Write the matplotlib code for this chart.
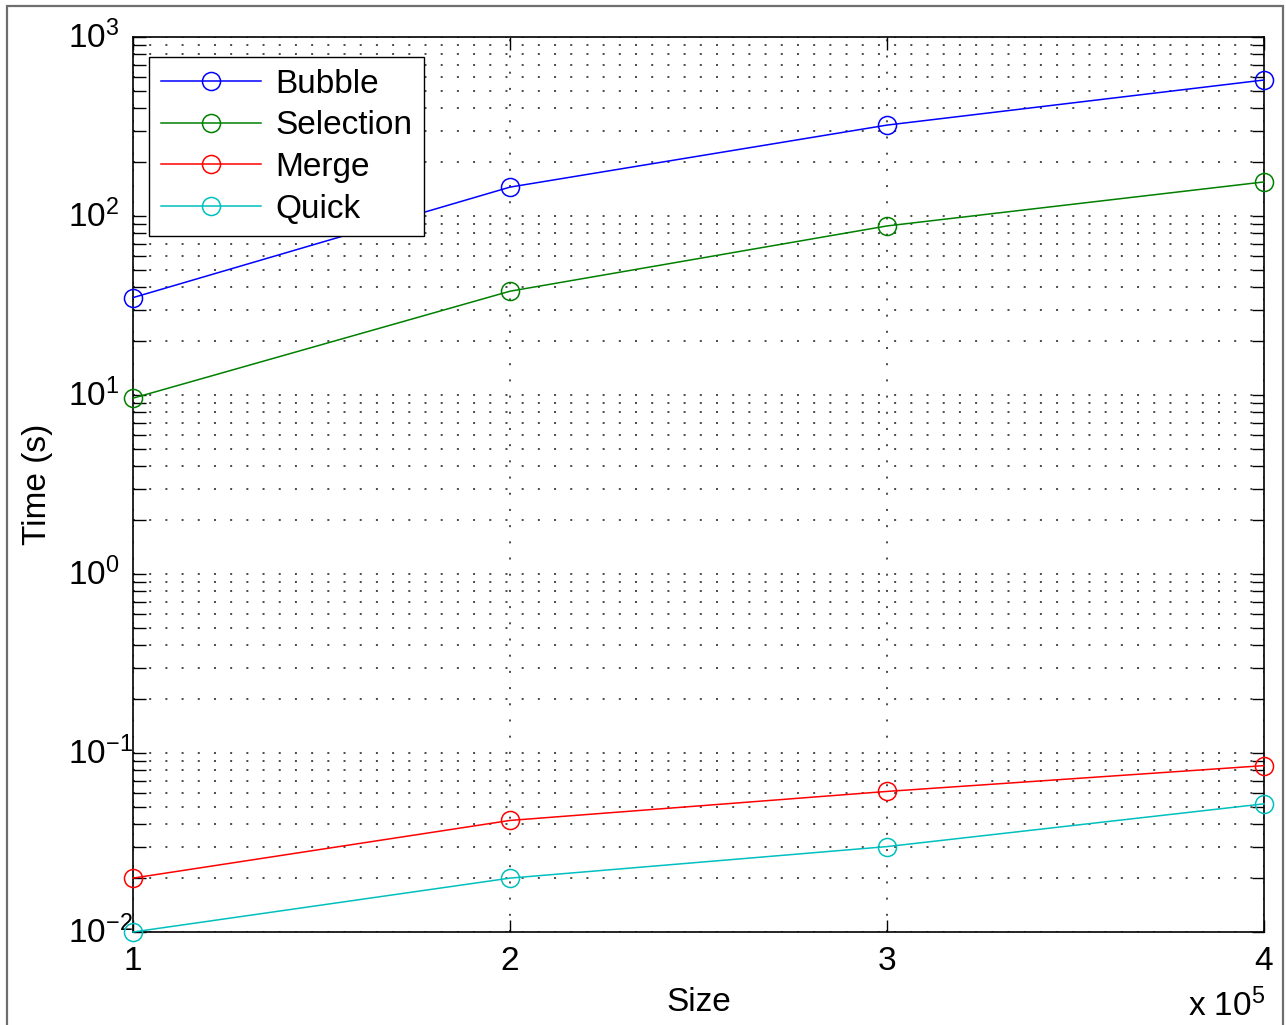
import math
import matplotlib
matplotlib.use("Agg")
import matplotlib.pyplot as plt
from matplotlib.ticker import FixedLocator, FuncFormatter, LogLocator, NullFormatter
from matplotlib.patches import Rectangle
from matplotlib.transforms import ScaledTranslation

plt.rcParams['font.family'] = ['Liberation Sans', 'DejaVu Sans']
plt.rcParams['mathtext.fontset'] = 'custom'
plt.rcParams['mathtext.rm'] = 'Liberation Sans'
plt.rcParams['mathtext.it'] = 'Liberation Sans'
plt.rcParams['mathtext.default'] = 'regular'

sizes = [1e5, 2e5, 3e5, 4e5]
bubble = [35, 145, 322, 575]
selection = [9.6, 38, 88, 155]
merge = [0.020, 0.042, 0.061, 0.085]
quick = [0.010, 0.020, 0.030, 0.052]
labels = ["Bubble", "Selection", "Merge", "Quick"]
colors = ["#0000ff", "#008000", "#ff0000", "#00bfbf"]

FS = 24

fig = plt.figure(figsize=(12.86, 10.25), dpi=100)
fig.patches.append(Rectangle((7/1286, -0.1), (1283-7)/1286, 1.1 - 6/1025,
                             transform=fig.transFigure, fill=False,
                             edgecolor="#6e6e6e", linewidth=1.6))
ax = fig.add_axes([133/1286, 1-932/1025, (1264-133)/1286, (932-37)/1025])

for ys, lab, c in zip([bubble, selection, merge, quick], labels, colors):
    ax.plot(sizes, ys, color=c, marker='o', markersize=13, markerfacecolor='none',
            markeredgewidth=1.1, linewidth=1.1, label=lab, zorder=3, clip_on=False)

ax.set_yscale('log')
ax.set_xlim(1e5, 4e5)
ax.set_ylim(1e-2, 1e3)
ax.xaxis.set_major_locator(FixedLocator(sizes))
ax.xaxis.set_major_formatter(FuncFormatter(lambda v, p: "%g" % (v / 1e5)))
ax.yaxis.set_major_locator(LogLocator(base=10, numticks=10))
ax.yaxis.set_minor_locator(LogLocator(base=10, subs=range(2, 10), numticks=20))
ax.yaxis.set_minor_formatter(NullFormatter())
ax.yaxis.set_major_formatter(FuncFormatter(lambda v, p: r"$10^{%d}$" % round(math.log10(v))))

grid_ls = (0, (1.3, 9.3))
ax.grid(True, which='major', axis='both', color='#1a1a1a', linestyle=grid_ls, linewidth=1.1)
ax.grid(True, which='minor', axis='y', color='#1a1a1a', linestyle=grid_ls, linewidth=1.1)

ax.tick_params(which='both', direction='in', top=True, right=True, width=1.0,
               labelsize=FS)
ax.tick_params(axis='x', pad=10)
ax.tick_params(axis='y', pad=(133 - 68) * 72 / 100)
ax.tick_params(which='major', length=9)
ax.tick_params(which='minor', length=9)
for s in ax.spines.values():
    s.set_linewidth(1.2)

shift = ScaledTranslation(0, 3 / 100, fig.dpi_scale_trans)
for tick in ax.yaxis.get_major_ticks():
    tick.label1.set_horizontalalignment('left')
    tick.label1.set_transform(tick.label1.get_transform() + shift)

ax.set_xlabel("Size", fontsize=FS, labelpad=7)
ax.set_ylabel("Time (s)", fontsize=FS, labelpad=11)
fig.text(1265/1286, 1 - 1016/1025, r"x 10$^5$", ha='right', va='baseline', fontsize=FS)

leg = ax.legend(loc='upper left', bbox_to_anchor=((149-133)/1131, (932-57)/895),
                borderaxespad=0, fontsize=FS, handlelength=3.0, handletextpad=0.45,
                labelspacing=0.32, fancybox=False, framealpha=1, edgecolor='black',
                borderpad=0.35)
leg.get_frame().set_linewidth(1.0)
leg.set_zorder(5)

fig.savefig("out.png", dpi=100)
